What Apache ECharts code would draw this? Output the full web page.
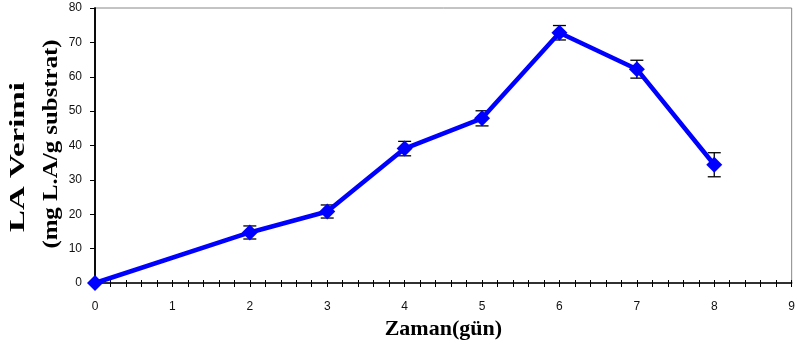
<!DOCTYPE html>
<html>
<head>
<meta charset="utf-8">
<script src="https://cdn.jsdelivr.net/npm/echarts@6/dist/echarts.min.js"></script>
<style>html,body{margin:0;padding:0;background:#fff;}#c{width:798px;height:347px;}</style>
</head>
<body>
<div id="c"></div>
<script>
const days = [0, 2, 3, 4, 5, 6, 7, 8];
const yieldValues = [0, 14.7, 20.8, 39.1, 47.9, 72.8, 62.2, 34.4];
const errValues = [0, 1.9, 1.9, 2.1, 2.2, 2.1, 2.6, 3.5];
const xTicks = [0, 1, 2, 3, 4, 5, 6, 7, 8, 9];
const yTicks = [0, 10, 20, 30, 40, 50, 60, 70, 80];

const lineData = days.map((d, i) => [d, yieldValues[i]]);
const errData = days.map((d, i) => [d, yieldValues[i] - errValues[i], yieldValues[i] + errValues[i]]);

const chart = echarts.init(document.getElementById('c'), null, {renderer: 'canvas'});
const serif = '"Liberation Serif", "Times New Roman", serif';
const sans = '"Liberation Sans", Arial, sans-serif';

chart.setOption({
  animation: false,
  backgroundColor: '#fff',
  grid: {left: 95, right: 3, top: 8, bottom: 64, show: true, borderColor: '#888', borderWidth: 1},
  xAxis: [{
    type: 'value', min: xTicks[0], max: xTicks[xTicks.length - 1], interval: 1,
    axisLine: {show: true, lineStyle: {color: '#000', width: 1.5}},
    axisTick: {show: true, length: 4, lineStyle: {color: '#000'}},
    minorTick: {show: true, splitNumber: 5, length: 4, lineStyle: {color: '#000'}},
    axisLabel: {color: '#111', fontFamily: sans, fontSize: 12, margin: 18},
    splitLine: {show: false},
    name: 'Zaman(gün)', nameLocation: 'middle', nameGap: 35,
    nameTextStyle: {fontFamily: serif, fontWeight: 'bold', fontSize: 22, color: '#000'}
  }, {
    type: 'value', min: xTicks[0], max: xTicks[xTicks.length - 1], interval: 1, position: 'bottom',
    axisLine: {show: false},
    axisTick: {show: true, inside: true, length: 3, lineStyle: {color: '#000'}},
    minorTick: {show: true, splitNumber: 5, length: 3, lineStyle: {color: '#000'}},
    axisLabel: {show: false}, splitLine: {show: false}
  }],
  yAxis: [{
    type: 'value', min: yTicks[0], max: yTicks[yTicks.length - 1], interval: 10,
    axisLine: {show: true, lineStyle: {color: '#000', width: 1.5}},
    axisTick: {show: true, length: 5, lineStyle: {color: '#000'}},
    axisLabel: {color: '#111', fontFamily: sans, fontSize: 12, margin: 13},
    splitLine: {show: false}
  }, {
    type: 'value', min: yTicks[0], max: yTicks[yTicks.length - 1], interval: 10, position: 'right',
    axisLine: {show: true, lineStyle: {color: '#000', width: 1.5}},
    axisTick: {show: false}, axisLabel: {show: false}, splitLine: {show: false}
  }],
  graphic: [{
    type: 'text',
    style: {text: 'LA Verimi', font: 'bold 22px ' + serif, fill: '#000', textAlign: 'center', textVerticalAlign: 'middle'},
    x: 18, y: 157, rotation: Math.PI / 2, scaleX: 1.5
  }, {
    type: 'text',
    style: {text: '(mg L.A/g substrat)', font: 'bold 22px ' + serif, fill: '#000', textAlign: 'center', textVerticalAlign: 'middle'},
    x: 51, y: 144, rotation: Math.PI / 2, scaleX: 1.13
  }],
  series: [{
    type: 'custom',
    xAxisIndex: 0, yAxisIndex: 0,
    z: 1,
    renderItem: function (params, api) {
      const x = api.value(0);
      const lo = api.coord([x, api.value(1)]);
      const hi = api.coord([x, api.value(2)]);
      const w = 6.5;
      const st = {stroke: '#000', lineWidth: 1.3};
      return {type: 'group', children: [
        {type: 'line', shape: {x1: lo[0], y1: lo[1], x2: hi[0], y2: hi[1]}, style: st},
        {type: 'line', shape: {x1: lo[0] - w, y1: lo[1], x2: lo[0] + w, y2: lo[1]}, style: st},
        {type: 'line', shape: {x1: hi[0] - w, y1: hi[1], x2: hi[0] + w, y2: hi[1]}, style: st}
      ]};
    },
    encode: {x: 0, y: [1, 2]},
    data: errData
  }, {
    type: 'line',
    xAxisIndex: 0, yAxisIndex: 0,
    z: 3,
    data: lineData,
    symbol: 'diamond', symbolSize: 16,
    lineStyle: {color: '#0000ff', width: 4.5},
    itemStyle: {color: '#0000ff'}
  }]
});
</script>
</body>
</html>
